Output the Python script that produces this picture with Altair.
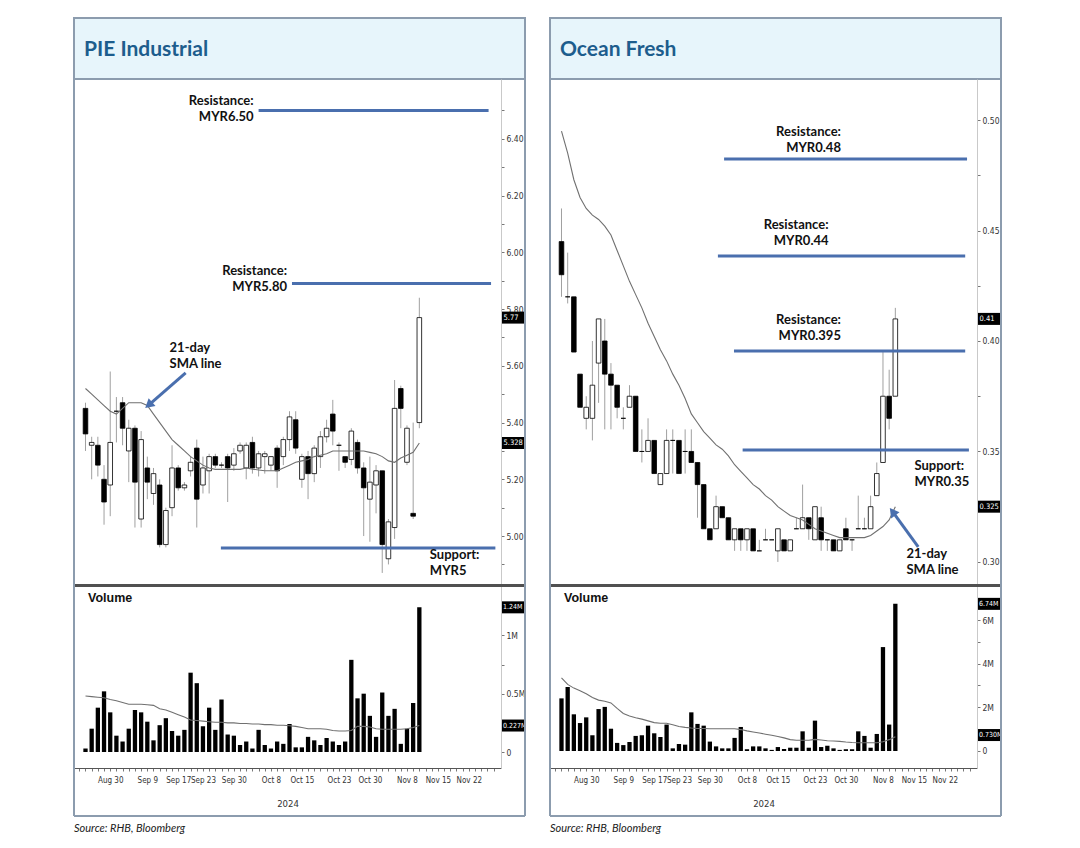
import altair as alt
import pandas as pd

# ---------------- shared x axis (trading-day index, 26 Aug 2024 = 0) ----------------
tick_idx = [4, 10, 15, 19, 24, 30, 35, 41, 46, 52, 57, 62]
tick_text = ["Aug 30", "Sep 9", "Sep 17", "Sep 23", "Sep 30", "Oct 8", "Oct 15",
             "Oct 23", "Oct 30", "Nov 8", "Nov 15", "Nov 22"]

# ---------------- PIE Industrial ----------------
pie_open = [5.45, 5.32, 5.32, 5.20, 5.18, 5.44, 5.47, 5.30, 5.38, 5.06,
            5.24, 5.15, 5.18, 4.97, 5.10, 5.24, 5.17, 5.23, 5.31, 5.18,
            5.23, 5.28, 5.25, 5.28, 5.25, 5.30, 5.24, 5.33, 5.24, 5.28,
            5.25, 5.31, 5.28, 5.34, 5.41, 5.20, 5.28, 5.22, 5.28, 5.35,
            5.43, 5.32, 5.28, 5.27, 5.33, 5.24, 5.13, 5.18, 5.23, 4.92,
            5.03, 5.52, 5.26, 5.08, 5.40]
pie_high = [5.47, 5.35, 5.35, 5.25, 5.58, 5.49, 5.49, 5.41, 5.39, 5.37,
            5.28, 5.24, 5.20, 5.10, 5.32, 5.25, 5.19, 5.28, 5.34, 5.28,
            5.29, 5.29, 5.26, 5.29, 5.31, 5.33, 5.33, 5.35, 5.30, 5.30,
            5.28, 5.32, 5.35, 5.44, 5.44, 5.29, 5.30, 5.32, 5.37, 5.41,
            5.48, 5.33, 5.28, 5.38, 5.34, 5.26, 5.28, 5.25, 5.23, 5.06,
            5.55, 5.53, 5.39, 5.40, 5.84]
pie_low = [5.30, 5.20, 5.21, 5.04, 5.07, 5.33, 5.32, 5.19, 5.03, 5.03,
           5.13, 5.11, 4.96, 4.96, 5.07, 5.16, 5.16, 5.21, 5.03, 5.15,
           5.15, 5.24, 5.24, 5.12, 5.23, 5.29, 5.20, 5.22, 5.21, 5.22,
           5.23, 5.17, 5.25, 5.30, 5.29, 5.17, 5.13, 5.19, 5.24, 5.33,
           5.32, 5.23, 5.24, 5.25, 5.22, 5.00, 4.98, 5.08, 4.87, 4.90,
           4.99, 5.38, 5.25, 5.06, 5.38]
pie_close = [5.36, 5.33, 5.25, 5.12, 5.33, 5.44, 5.38, 5.38, 5.19, 5.34,
             5.19, 5.22, 4.97, 5.09, 5.24, 5.17, 5.18, 5.26, 5.13, 5.24,
             5.28, 5.25, 5.25, 5.24, 5.29, 5.32, 5.32, 5.24, 5.29, 5.29,
             5.28, 5.23, 5.34, 5.42, 5.31, 5.28, 5.22, 5.31, 5.35, 5.38,
             5.37, 5.32, 5.26, 5.37, 5.24, 5.17, 5.19, 5.23, 4.97, 5.05,
             5.45, 5.45, 5.38, 5.07, 5.77]
pie_sma21 = [5.52, 5.50, 5.48, 5.46, 5.44, 5.43, 5.45, 5.47, 5.47, 5.47,
             5.46, 5.43, 5.40, 5.37, 5.34, 5.32, 5.30, 5.28, 5.265, 5.25,
             5.24, 5.235, 5.235, 5.235, 5.235, 5.235, 5.24, 5.236, 5.233, 5.23,
             5.23, 5.23, 5.24, 5.25, 5.26, 5.265, 5.27, 5.28, 5.285, 5.29,
             5.30, 5.30, 5.30, 5.30, 5.30, 5.30, 5.295, 5.29, 5.28, 5.265,
             5.26, 5.275, 5.285, 5.295, 5.328]
pie_volume = [0.03, 0.20, 0.38, 0.52, 0.34, 0.14, 0.09, 0.20, 0.36, 0.34,
              0.26, 0.10, 0.23, 0.29, 0.18, 0.14, 0.19, 0.68, 0.59, 0.22,
              0.38, 0.19, 0.45, 0.15, 0.14, 0.06, 0.09, 0.03, 0.19, 0.06,
              0.03, 0.09, 0.07, 0.24, 0.04, 0.04, 0.13, 0.10, 0.06, 0.12,
              0.09, 0.06, 0.09, 0.79, 0.46, 0.50, 0.31, 0.13, 0.51, 0.31,
              0.37, 0.07, 0.20, 0.42, 1.24]
pie_vol_sma = [0.48, 0.475, 0.47, 0.465, 0.45, 0.44, 0.425, 0.41, 0.41, 0.41,
               0.405, 0.40, 0.37, 0.36, 0.34, 0.32, 0.30, 0.275, 0.27, 0.265,
               0.26, 0.255, 0.255, 0.25, 0.25, 0.245, 0.245, 0.24, 0.24, 0.235,
               0.235, 0.23, 0.23, 0.225, 0.22, 0.21, 0.20, 0.20, 0.20, 0.195,
               0.185, 0.18, 0.18, 0.185, 0.22, 0.22, 0.215, 0.20, 0.195, 0.195,
               0.195, 0.195, 0.20, 0.21, 0.227]

# ---------------- Ocean Fresh ----------------
oce_open = [0.445, 0.420, 0.420, 0.385, 0.365, 0.365, 0.390, 0.400, 0.385, 0.380,
            0.365, 0.370, 0.375, 0.350, 0.350, 0.355, 0.335, 0.340, 0.355, 0.355,
            0.350, 0.350, 0.345, 0.335, 0.315, 0.315, 0.325, 0.320, 0.310, 0.315,
            0.310, 0.315, 0.305, 0.310, 0.310, 0.305, 0.310, 0.305, 0.315, 0.315,
            0.320, 0.310, 0.320, 0.310, 0.310, 0.305, 0.315, 0.310, 0.315, 0.315,
            0.315, 0.330, 0.345, 0.375, 0.375]
oce_high = [0.460, 0.440, 0.420, 0.385, 0.375, 0.400, 0.410, 0.410, 0.390, 0.380,
            0.370, 0.380, 0.375, 0.360, 0.365, 0.355, 0.340, 0.360, 0.360, 0.355,
            0.360, 0.360, 0.345, 0.335, 0.315, 0.330, 0.325, 0.320, 0.315, 0.315,
            0.315, 0.315, 0.310, 0.315, 0.310, 0.315, 0.310, 0.310, 0.320, 0.335,
            0.320, 0.325, 0.325, 0.310, 0.310, 0.310, 0.320, 0.310, 0.330, 0.320,
            0.330, 0.345, 0.395, 0.387, 0.415]
oce_low = [0.420, 0.417, 0.395, 0.370, 0.360, 0.355, 0.372, 0.360, 0.360, 0.365,
           0.360, 0.370, 0.350, 0.345, 0.350, 0.340, 0.335, 0.340, 0.340, 0.340,
           0.340, 0.345, 0.320, 0.315, 0.310, 0.315, 0.320, 0.310, 0.305, 0.305,
           0.305, 0.305, 0.305, 0.310, 0.310, 0.300, 0.305, 0.305, 0.315, 0.315,
           0.310, 0.310, 0.305, 0.305, 0.305, 0.305, 0.310, 0.305, 0.315, 0.315,
           0.315, 0.330, 0.345, 0.360, 0.375]
oce_close = [0.430, 0.420, 0.395, 0.370, 0.370, 0.380, 0.410, 0.385, 0.380, 0.370,
             0.365, 0.375, 0.350, 0.350, 0.355, 0.340, 0.340, 0.355, 0.355, 0.340,
             0.350, 0.345, 0.335, 0.315, 0.310, 0.325, 0.320, 0.310, 0.315, 0.310,
             0.315, 0.305, 0.305, 0.310, 0.310, 0.315, 0.305, 0.310, 0.315, 0.320,
             0.315, 0.325, 0.310, 0.310, 0.305, 0.310, 0.310, 0.310, 0.315, 0.315,
             0.325, 0.340, 0.375, 0.365, 0.410]
oce_sma21 = [0.495, 0.485, 0.473, 0.465, 0.460, 0.457, 0.455, 0.452, 0.448, 0.441,
             0.434, 0.427, 0.421, 0.415, 0.408, 0.402, 0.396, 0.391, 0.385, 0.380,
             0.374, 0.367, 0.363, 0.359, 0.356, 0.353, 0.351, 0.348, 0.344, 0.341,
             0.338, 0.335, 0.333, 0.330, 0.328, 0.325, 0.323, 0.321, 0.320, 0.319,
             0.317, 0.315, 0.314, 0.313, 0.312, 0.311, 0.311, 0.311, 0.311, 0.311,
             0.312, 0.314, 0.316, 0.319, 0.325]
oce_volume = [2.41, 2.93, 1.68, 1.28, 1.54, 0.72, 1.92, 2.02, 1.02, 0.37,
              0.27, 0.41, 0.69, 0.72, 1.16, 0.81, 0.64, 1.21, 0.12, 0.32,
              0.29, 1.77, 1.24, 1.16, 0.43, 0.21, 0.12, 0.12, 0.60, 1.10,
              0.08, 0.21, 0.21, 0.12, 0.05, 0.18, 0.09, 0.15, 0.15, 0.90,
              0.15, 1.39, 0.18, 0.24, 0.12, 0.05, 0.08, 0.08, 0.90, 0.69,
              0.15, 0.78, 4.76, 1.21, 6.74]
oce_vol_sma = [3.35, 3.05, 2.88, 2.76, 2.62, 2.45, 2.33, 2.28, 2.20, 1.95,
               1.72, 1.60, 1.52, 1.46, 1.38, 1.30, 1.27, 1.27, 1.20, 1.12,
               1.08, 1.05, 1.03, 1.03, 1.02, 1.02, 1.02, 1.02, 1.02, 0.98,
               0.92, 0.87, 0.82, 0.77, 0.72, 0.66, 0.60, 0.52, 0.49, 0.49,
               0.49, 0.53, 0.50, 0.47, 0.46, 0.44, 0.41, 0.39, 0.38, 0.38,
               0.38, 0.38, 0.42, 0.52, 0.65]

# ---------------- annotations (data units: day index / price of first text line) ----------------
pie_levels = pd.DataFrame({"x": [28.0, 33.4, 21.9], "x2": [65.2, 65.6, 66.3],
                           "y": [6.50, 5.89, 4.958]})
pie_text_r = pd.DataFrame({"x": [27.2, 32.6], "y": [6.534, 5.934],
                           "t": ["Resistance:\nMYR6.50", "Resistance:\nMYR5.80"]})
pie_text_l = pd.DataFrame({"x": [55.7, 13.6], "y": [4.933, 5.663],
                           "t": ["Support:\nMYR5", "21-day\nSMA line"]})
pie_arrow = pd.DataFrame({"x0": [16.2], "y0": [5.575], "x1": [10.4], "y1": [5.465]})
pie_boxes = pd.DataFrame({"y": [5.77, 5.328], "t": ["5.77", "5.328"]})
pie_vboxes = pd.DataFrame({"y": [1.24, 0.227], "t": ["1.24M", "0.227M"]})

oce_levels = pd.DataFrame({"x": [26.3, 25.3, 27.9, 29.3], "x2": [65.6, 65.3, 65.3, 65.9],
                           "y": [0.4824, 0.4385, 0.3955, 0.3507]})
oce_text_r = pd.DataFrame({"x": [45.2, 43.2, 45.2], "y": [0.4946, 0.4525, 0.4095],
                           "t": ["Resistance:\nMYR0.48", "Resistance:\nMYR0.44",
                                 "Resistance:\nMYR0.395"]})
oce_text_l = pd.DataFrame({"x": [57.1, 55.8], "y": [0.3434, 0.3036],
                           "t": ["Support:\nMYR0.35", "21-day\nSMA line"]})
oce_arrow = pd.DataFrame({"x0": [57.7], "y0": [0.3068], "x1": [53.7], "y1": [0.3222]})
oce_boxes = pd.DataFrame({"y": [0.41, 0.325], "t": ["0.41", "0.325"]})
oce_vboxes = pd.DataFrame({"y": [6.74, 0.73], "t": ["6.74M", "0.730M"]})

# ---------------- layout / style ----------------
W, PW, HH, PH, VH, VB = 427, 451, 61, 505, 184, 232
XDOM = [-1.05, 66.4]
BLUE = "#4a6fae"
BORDER = "#8c9cae"
NARROW = "Liberation Sans Narrow, DejaVu Sans Condensed, Arial Narrow, Liberation Sans, sans-serif"
LATO = "Lato, sans-serif"
BOX = "M0,-1L3.75,-1L3.75,1L0,1Z"

xscale = alt.Scale(domain=XDOM, nice=False, zero=False)
one = pd.DataFrame({"k": [0]})


def frame(df):
    return pd.DataFrame({"i": list(range(len(df[0]))), "open": df[0], "high": df[1],
                         "low": df[2], "close": df[3], "sma": df[4],
                         "vol": df[5], "vsma": df[6]})


def vline(xpix, y0, y1, width=2, color=BORDER):
    return alt.Chart(one).mark_rule(color=color, strokeWidth=width).encode(
        x=alt.value(xpix), y=alt.value(y0), y2=alt.value(y1))


def hline(ypix, x0, x1, width=2, color=BORDER):
    return alt.Chart(one).mark_rule(color=color, strokeWidth=width).encode(
        x=alt.value(x0), x2=alt.value(x1), y=alt.value(ypix))


def header(title):
    box = alt.Chart(one).mark_rect(fill="#e7f5fb", stroke=BORDER, strokeWidth=2).encode(
        x=alt.value(0), x2=alt.value(PW), y=alt.value(0), y2=alt.value(HH))
    txt = alt.Chart(one).mark_text(text=title, align="left", baseline="middle", font=LATO,
                                   fontWeight="bold", fontSize=21, color="#1d5d8d").encode(
        x=alt.value(10), y=alt.value(HH / 2 + 1))
    return alt.layer(box, txt).properties(width=W, height=HH)


def price_panel(df, ydom, yvals, ylab, levels, text_r, text_l, arrow, angle, boxes):
    yscale = alt.Scale(domain=ydom, nice=False, zero=False)
    yaxis = alt.Axis(orient="right", values=yvals, labelExpr=ylab, title=None, grid=False,
                     domainColor="#c9c9c9", tickColor="#777", tickSize=3, labelFont=NARROW,
                     labelFontSize=8.5, labelColor="#333", labelPadding=2, labelOverlap=False)

    def X(f):
        return alt.X(f, type="quantitative", scale=xscale, axis=None)

    def Y(f):
        return alt.Y(f, type="quantitative", scale=yscale, axis=yaxis)

    base = alt.Chart(df)
    wick = base.mark_rule(color="#a0a0a0", strokeWidth=1).encode(
        x=X("i"), y=Y("low"), y2="high:Q")
    body = base.mark_bar(size=4.6, stroke="#000", strokeWidth=0.8).encode(
        x=X("i"), y=Y("open"), y2="close:Q",
        fill=alt.condition("datum.close >= datum.open", alt.value("white"), alt.value("black")))
    sma = base.mark_line(color="#707070", strokeWidth=1.1).encode(x=X("i"), y=Y("sma"))
    lv = alt.Chart(levels).mark_rule(color=BLUE, strokeWidth=3).encode(
        x=X("x"), x2="x2:Q", y=Y("y"))
    tr = alt.Chart(text_r).mark_text(align="right", baseline="middle", lineBreak="\n",
                                     font=LATO, fontWeight="bold", fontSize=13, lineHeight=16,
                                     color="#111").encode(x=X("x"), y=Y("y"), text="t:N")
    tl = alt.Chart(text_l).mark_text(align="left", baseline="middle", lineBreak="\n",
                                     font=LATO, fontWeight="bold", fontSize=13, lineHeight=16,
                                     color="#111").encode(x=X("x"), y=Y("y"), text="t:N")
    shaft = alt.Chart(arrow).mark_rule(color=BLUE, strokeWidth=3).encode(
        x=X("x0"), x2="x1:Q", y=Y("y0"), y2="y1:Q")
    head = alt.Chart(arrow).mark_point(shape="triangle", filled=True, size=110, color=BLUE,
                                       opacity=1, angle=angle).encode(x=X("x1"), y=Y("y1"))
    bx = alt.Chart(boxes).mark_point(shape=BOX, filled=True, color="black", size=144,
                                     opacity=1, strokeWidth=0).encode(
        x=alt.value(W + 1), y=Y("y"))
    bt = alt.Chart(boxes).mark_text(align="left", baseline="middle", color="white",
                                    font=NARROW, fontSize=7.5, dx=1.5).encode(
        x=alt.value(W + 1), y=Y("y"), text="t:N")
    return alt.layer(wick, body, sma, lv, tr, tl, shaft, head, bx, bt,
                     vline(0, 0, PH), vline(PW, 0, PH)).properties(width=W, height=PH)


def volume_panel(df, ydom, yvals, ylab, boxes):
    yscale = alt.Scale(domain=ydom, nice=False, zero=False)
    yaxis = alt.Axis(orient="right", values=yvals, labelExpr=ylab, title=None, grid=False,
                     domainColor="#c9c9c9", tickColor="#777", tickSize=3, labelFont=NARROW,
                     labelFontSize=8.5, labelColor="#333", labelPadding=2, labelOverlap=False)
    lab_expr = ("indexof(" + str(tick_idx) + ", datum.value) >= 0 ? "
                + str(tick_text) + "[indexof(" + str(tick_idx) + ", datum.value)] : ''")
    xaxis = alt.Axis(orient="bottom", values=list(range(-1, 67)), labelExpr=lab_expr,
                     title="2024", grid=False, domainColor="#555", tickColor="#777",
                     tickSize=3, labelFont=NARROW, labelFontSize=8, labelColor="#333",
                     labelPadding=5, labelOverlap=False, labelFlush=False,
                     titleFont=NARROW, titleFontSize=9.5, titleFontWeight="normal",
                     titleColor="#333", titlePadding=14)

    def X(f):
        return alt.X(f, type="quantitative", scale=xscale, axis=xaxis)

    def Y(f):
        return alt.Y(f, type="quantitative", scale=yscale, axis=yaxis)

    base = alt.Chart(df)
    bars = base.mark_bar(size=4.3, color="black").encode(x=X("i"), y=Y("vol"), y2=alt.datum(0))
    avg = base.mark_line(color="#707070", strokeWidth=1.1).encode(x=X("i"), y=Y("vsma"))
    title = alt.Chart(one).mark_text(text="Volume", align="left", baseline="middle",
                                     font="Liberation Sans, Arial, sans-serif",
                                     fontWeight="bold", fontSize=12.5, color="#111").encode(
        x=alt.value(14), y=alt.value(14))
    bx = alt.Chart(boxes).mark_point(shape=BOX, filled=True, color="black", size=144,
                                     opacity=1, strokeWidth=0).encode(
        x=alt.value(W + 1), y=Y("y"))
    bt = alt.Chart(boxes).mark_text(align="left", baseline="middle", color="white",
                                    font=NARROW, fontSize=7, dx=1).encode(
        x=alt.value(W + 1), y=Y("y"), text="t:N")
    src = alt.Chart(one).mark_text(text="Source: RHB, Bloomberg", align="left",
                                   baseline="middle", font=LATO, fontStyle="italic",
                                   fontSize=11, color="#222").encode(
        x=alt.value(0), y=alt.value(VB + 13))
    sep = hline(1.5, 0, PW, width=3, color="#505050")
    return alt.layer(bars, avg, title, bx, bt, src, sep,
                     vline(0, 0, VB), vline(PW, 0, VB), hline(VB, 0, PW)).properties(
        width=W, height=VH)


pie_df = frame([pie_open, pie_high, pie_low, pie_close, pie_sma21, pie_volume, pie_vol_sma])
oce_df = frame([oce_open, oce_high, oce_low, oce_close, oce_sma21, oce_volume, oce_vol_sma])

pie_price = price_panel(
    pie_df, [4.831, 6.611], [round(4.9 + 0.1 * k, 2) for k in range(17)],
    "round(datum.value*10) % 2 == 0 ? format(datum.value, '.2f') : ''",
    pie_levels, pie_text_r, pie_text_l, pie_arrow, 229, pie_boxes)
oce_price = price_panel(
    oce_df, [0.290, 0.5186], [0.30, 0.325, 0.35, 0.375, 0.40, 0.425, 0.45, 0.475, 0.50],
    "round(datum.value*1000) % 50 == 0 ? format(datum.value, '.2f') : ''",
    oce_levels, oce_text_r, oce_text_l, oce_arrow, 323, oce_boxes)

pie_vol = volume_panel(
    pie_df, [-0.137, 1.44], [0, 0.25, 0.5, 0.75, 1.0, 1.25],
    "datum.value == 0 ? '0' : datum.value == 0.5 ? '0.5M' : datum.value == 1 ? '1M' : ''",
    pie_vboxes)
oce_vol = volume_panel(
    oce_df, [-0.78, 7.65], [0, 1, 2, 3, 4, 5, 6, 7],
    "datum.value == 0 ? '0' : datum.value % 2 == 0 ? datum.value + 'M' : ''",
    oce_vboxes)

chart = alt.concat(
    header("PIE Industrial"), header("Ocean Fresh"),
    pie_price, oce_price,
    pie_vol, oce_vol,
    columns=2, spacing={"row": 0, "column": 49}, bounds="flush",
).properties(
    padding={"left": 64, "top": 9, "right": 5, "bottom": 5},
    background="white",
).configure_view(stroke=None)

chart.save("out.html", embed_options={"renderer": "svg", "actions": False})
